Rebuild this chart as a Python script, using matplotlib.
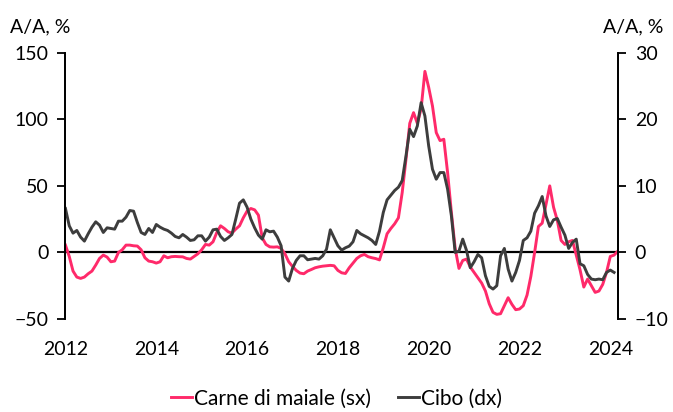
import matplotlib.pyplot as plt
import numpy as np

plt.rcParams['font.family'] = ['Lato', 'DejaVu Sans']

# monthly data, Jan 2012 onwards
carne = [5.5, -3, -14, -18.5, -19.5, -18.5, -16, -14, -9.5, -4.5, -2, -3.5,
         -7, -6.5, 0, 2, 5.5, 5.5, 5, 4.8, 2, -4, -6.5, -7,
         -8, -7, -2.5, -4, -3.2, -3, -3.2, -3.3, -4.5, -5, -3, -1,
         2, 6, 5.5, 8, 15, 20, 18, 15.5, 14.5, 17.5, 20, 26,
         31, 33, 32, 28, 11, 6, 4.2, 4, 4.2, 3, -1, -7,
         -10.5, -13.5, -15.5, -16, -14, -12.8, -11.5, -10.8, -10.3, -10, -9.7, -10,
         -13.5, -15.3, -15.8, -11.5, -8, -4.5, -2.5, -1.5, -3.2, -4, -4.6, -5.6,
         3.5, 14, 18, 21.5, 26, 45, 70, 97, 105, 97, 108, 136,
         124, 110, 90, 84, 85, 60, 30, 3, -12, -6, -5, -11,
         -15, -19, -23, -29, -38.5, -45, -46.5, -46, -40, -34, -39, -43,
         -42.5, -40, -32, -18, 0, 19.5, 22, 36, 50, 34, 24, 9,
         6, 8, 9, -2, -13, -26, -20, -25, -30, -29, -24, -15,
         -3, -2, 1]
cibo = [6.6, 4.0, 2.9, 3.3, 2.3, 1.7, 2.8, 3.8, 4.6, 4.1, 3.0, 3.7,
        3.6, 3.5, 4.7, 4.7, 5.3, 6.3, 6.2, 4.5, 3.0, 2.7, 3.6, 3.0,
        4.2, 3.8, 3.5, 3.3, 2.9, 2.4, 2.2, 2.7, 2.3, 1.8, 1.9, 2.5,
        2.5, 1.7, 2.3, 3.4, 3.5, 2.4, 1.8, 2.2, 2.7, 5.0, 7.4, 7.9,
        6.8, 5.0, 3.7, 2.6, 2.0, 3.4, 3.1, 3.2, 2.3, 1.0, -3.7, -4.3,
        -2.4, -1.2, -0.5, -0.5, -1.1, -1.0, -0.9, -1.0, -0.5, 0.5, 3.4, 2.2,
        1.0, 0.35, 0.7, 0.95, 1.6, 3.3, 2.8, 2.5, 2.2, 1.8, 1.2, 3.2,
        6.0, 7.9, 8.6, 9.3, 9.8, 10.8, 14.5, 18.5, 17.4, 19.0, 22.5, 20.5,
        16.0, 12.5, 11.0, 12.0, 12.0, 9.5, 5.5, 0.0, 0.2, 2.0, 0.3, -2.3,
        -1.4, -0.3, -0.8, -3.5, -5.1, -5.5, -5.0, -0.5, 0.6, -2.5, -4.3, -3.0,
        -1.2, 1.8, 2.2, 3.2, 5.9, 7.0, 8.4, 5.5, 3.9, 4.9, 5.1, 3.8,
        2.6, 0.6, 1.5, 2.0, -1.7, -2.0, -3.3, -4.0, -4.1, -4.0, -4.1, -3.0,
        -2.65, -3.0]
years = [2012, 2014, 2016, 2018, 2020, 2022, 2024]

x_carne = 2012 + np.arange(len(carne)) / 12
x_cibo = 2012 + np.arange(len(cibo)) / 12

pink = '#ff2a6a'
dark = '#3d3d3d'

fig = plt.figure(figsize=(6.73, 4.12), dpi=100)
ax1 = fig.add_axes([0.0966, 0.2257, 0.8217, 0.6463])
ax2 = ax1.twinx()

ax1.axhline(0, color='black', lw=1.6, zorder=1)
l1, = ax1.plot(x_carne, carne, color=pink, lw=2.1, zorder=2, label='Carne di maiale (sx)')
l2, = ax2.plot(x_cibo, cibo, color=dark, lw=2.1, label='Cibo (dx)')

ax1.set_xlim(2011.99, 2024.17)
ax1.set_ylim(-50, 150)
ax2.set_ylim(-10, 30)
ax1.set_yticks([-50, 0, 50, 100, 150])
ax2.set_yticks([-10, 0, 10, 20, 30])
ax1.set_xticks(years)
ax1.set_xticklabels([str(y) for y in years])

for ax in (ax1, ax2):
    ax.spines['top'].set_visible(False)
    ax.spines['bottom'].set_visible(False)
    ax.spines['left'].set_linewidth(1.3)
    ax.spines['right'].set_linewidth(1.3)
    ax.tick_params(axis='y', labelsize=14, length=6, width=1.3, pad=6)
ax1.tick_params(axis='x', length=0, labelsize=14, pad=15.5)

fig.text(0.015, 0.935, 'A/A, %', fontsize=14, ha='left', va='center')
fig.text(0.985, 0.935, 'A/A, %', fontsize=14, ha='right', va='center')

fig.legend(handles=[l1, l2], loc='lower center', bbox_to_anchor=(0.5, -0.025),
           ncol=2, frameon=False, fontsize=15, handlelength=1.0,
           handletextpad=0.1, columnspacing=1.3, borderpad=0.15)

fig.savefig('out.png', dpi=100)
